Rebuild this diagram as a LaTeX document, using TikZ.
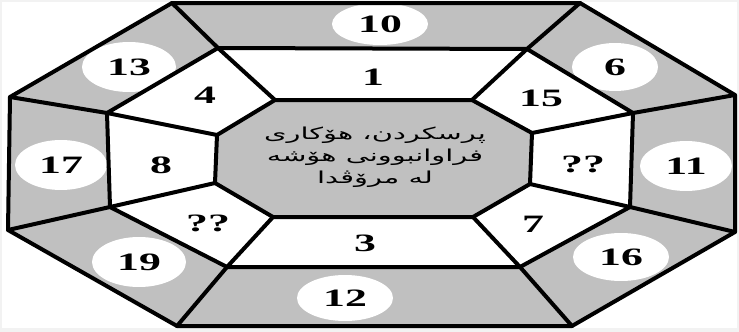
\documentclass[tikz,border=0pt]{standalone}
\usepackage{fontspec}
\setmainfont{Liberation Serif}
\newfontfamily\arabicfont[Script=Arabic]{DejaVu Sans}
\TeXXeTstate=1
\usetikzlibrary{shapes.geometric}
\definecolor{ringgray}{RGB}{192,192,192}
\definecolor{framegray}{RGB}{242,242,242}
\newcommand{\wide}[1]{\scalebox{1.75}[1]{#1}}
\begin{document}
\begin{tikzpicture}[x=1pt,y=-1pt,
  edge/.style={line width=4pt, line join=round, line cap=round},
  num/.style={font=\bfseries\fontsize{25}{27}\selectfont, inner sep=0pt},
  oval/.style={ellipse, fill=white, inner sep=0pt, font=\bfseries\fontsize{25}{27}\selectfont}]
% frame
\fill[framegray] (0,0) rectangle (739,332);
\fill[white] (2,2) rectangle (737,328);
\useasboundingbox (0,0) rectangle (739,332);
% vertices
\coordinate (O1) at (172,3);   \coordinate (O2) at (580,3);
\coordinate (O3) at (735,95);  \coordinate (O4) at (735,232);
\coordinate (O5) at (572,326); \coordinate (O6) at (177,326);
\coordinate (O7) at (8,230);   \coordinate (O8) at (10,97);
\coordinate (M1) at (218,48);  \coordinate (M2) at (527,49);
\coordinate (M3) at (633,113); \coordinate (M4) at (630,207);
\coordinate (M5) at (520,267); \coordinate (M6) at (227,267);
\coordinate (M7) at (110,207); \coordinate (M8) at (107,113);
\coordinate (I1) at (275,100); \coordinate (I2) at (472,100);
\coordinate (I3) at (532,133); \coordinate (I4) at (530,184);
\coordinate (I5) at (473,217); \coordinate (I6) at (273,217);
\coordinate (I7) at (215,183); \coordinate (I8) at (217,135);
% fills
\fill[ringgray] (O1)--(O2)--(O3)--(O4)--(O5)--(O6)--(O7)--(O8)--cycle;
\fill[white] (M1)--(M2)--(M3)--(M4)--(M5)--(M6)--(M7)--(M8)--cycle;
\fill[ringgray] (I1)--(I2)--(I3)--(I4)--(I5)--(I6)--(I7)--(I8)--cycle;
% ovals in outer ring
\node[oval, minimum width=96, minimum height=42] (n10) at (380,24) {\wide{10}};
\node[oval, minimum width=94, minimum height=50] (n13) at (129,67) {\wide{13}};
\node[oval, minimum width=86, minimum height=48] (n6) at (615,67) {\wide{6}};
\node[oval, minimum width=92, minimum height=50] (n17) at (61,165) {\wide{17}};
\node[oval, minimum width=92, minimum height=50] (n11) at (686,166) {\wide{11}};
\node[oval, minimum width=94, minimum height=50] (n19) at (139,262) {\wide{19}};
\node[oval, minimum width=96, minimum height=48] (n16) at (621,257) {\wide{16}};
\node[oval, minimum width=96, minimum height=46] (n12) at (345,298) {\wide{12}};
% lines
\draw[edge] (O1)--(O2)--(O3)--(O4)--(O5)--(O6)--(O7)--(O8)--cycle;
\draw[edge] (M1)--(M2)--(M3)--(M4)--(M5)--(M6)--(M7)--(M8)--cycle;
\draw[edge] (I1)--(I2)--(I3)--(I4)--(I5)--(I6)--(I7)--(I8)--cycle;
\foreach \k in {1,...,8}{\draw[edge] (I\k)--(M\k)--(O\k);}
% labels in the white ring
\node[num] (n1) at (373,77) {\wide{1}};
\node[num] (n4) at (205,95) {\wide{4}};
\node[num] (n15) at (541,98) {\wide{15}};
\node[num] (n8) at (161,165) {\wide{8}};
\node[num] (nq1) at (583,164) {\wide{??}};
\node[num] (nq2) at (208,223) {\wide{??}};
\node[num] (n3) at (365,243) {\wide{3}};
\node[num] (n7) at (533,224) {\wide{7}};
% centre text
\node[font=\arabicfont\fontsize{16.5}{22}\selectfont, align=center, inner sep=0pt] (c) at (375,157)
  {\wide{\beginR پرسکردن، هۆکاری\endR}\\\wide{\beginR فراوانبوونی هۆشە\endR}\\\wide{\beginR لە مرۆڤدا\endR}};
\end{tikzpicture}
\end{document}
